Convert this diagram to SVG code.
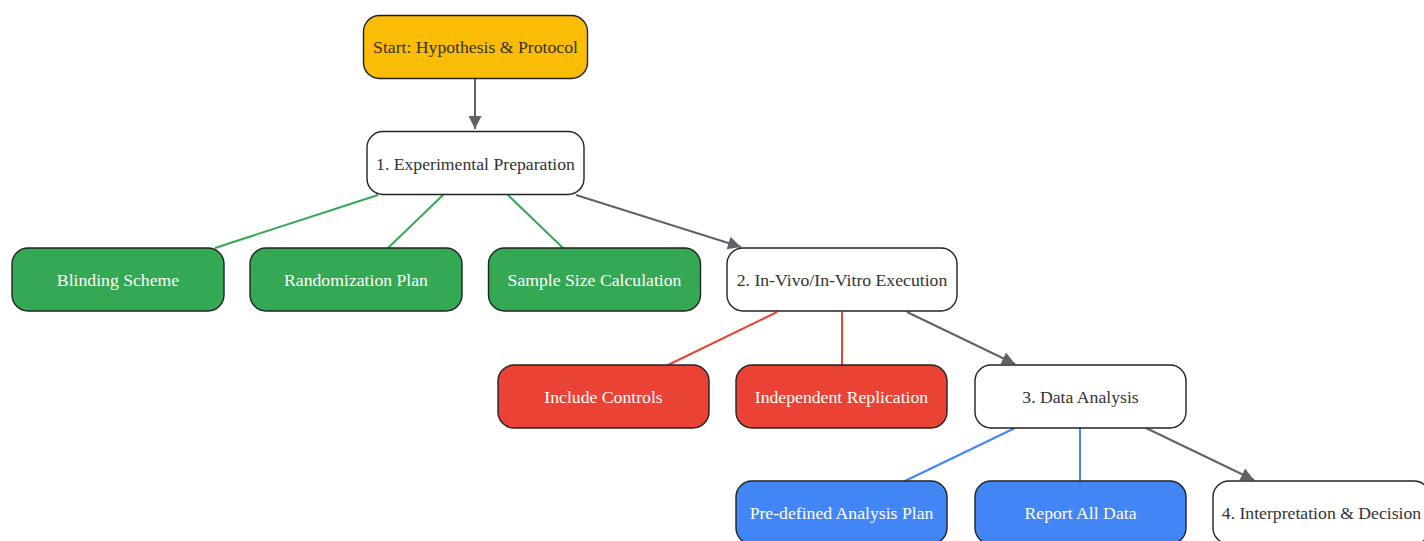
<svg xmlns="http://www.w3.org/2000/svg" width="1424" height="541" viewBox="0 0 1424 541">
<style>
.n{stroke:#222;stroke-width:1.4}
.w{fill:#fff}
.y{fill:#FBBC05}
.g{fill:#34A853}
.r{fill:#EA4335}
.b{fill:#4285F4}
text{font-family:"Liberation Serif","Times New Roman",serif;font-size:17.7px;text-anchor:middle;dominant-baseline:central}
.dk{fill:#333}
.lt{fill:#fff}
.e{fill:none;stroke-width:2}
.eg{stroke:#34A853}
.er{stroke:#EA4335}
.eb{stroke:#4285F4}
.ea{stroke:#5f6368}
</style>
<defs>
<marker id="ah" viewBox="0 0 10 10" refX="10" refY="5" markerWidth="7.5" markerHeight="6.5" markerUnits="strokeWidth" orient="auto">
<path d="M0,0 L10,5 L0,10 z" fill="#5f6368"/>
</marker>
</defs>
<rect width="1424" height="541" fill="#fff"/>
<g id="connectors">
<line class="e ea" x1="475" y1="78" x2="475" y2="129" marker-end="url(#ah)"/>
<line class="e eg" x1="378" y1="195" x2="215" y2="248"/>
<line class="e eg" x1="443" y1="195" x2="388" y2="248"/>
<line class="e eg" x1="508" y1="195" x2="563" y2="248"/>
<line class="e ea" x1="576" y1="195" x2="741" y2="247" marker-end="url(#ah)"/>
<line class="e er" x1="777" y1="312" x2="668" y2="365"/>
<line class="e er" x1="842" y1="312" x2="842" y2="365"/>
<line class="e ea" x1="907" y1="312" x2="1015" y2="364" marker-end="url(#ah)"/>
<line class="e eb" x1="1015" y1="428" x2="905" y2="481"/>
<line class="e eb" x1="1080" y1="428" x2="1080" y2="481"/>
<line class="e ea" x1="1146" y1="428" x2="1254" y2="480" marker-end="url(#ah)"/>
</g>
<g id="start"><rect class="n y" x="363.5" y="15.5" width="224" height="63" rx="16"/><text class="dk" x="475.5" y="47">Start: Hypothesis &amp; Protocol</text></g>
<g id="prep"><rect class="n w" x="367" y="131.5" width="217" height="63" rx="16"/><text class="dk" x="475.5" y="163.5">1. Experimental Preparation</text></g>
<g id="blinding"><rect class="n g" x="12" y="248" width="212" height="63" rx="16"/><text class="lt" x="118" y="280">Blinding Scheme</text></g>
<g id="random"><rect class="n g" x="250" y="248" width="212" height="63" rx="16"/><text class="lt" x="356" y="280">Randomization Plan</text></g>
<g id="sample"><rect class="n g" x="488.5" y="248" width="212" height="63" rx="16"/><text class="lt" x="594.5" y="280">Sample Size Calculation</text></g>
<g id="exec"><rect class="n w" x="727" y="248" width="230" height="63" rx="16"/><text class="dk" x="842" y="280">2. In-Vivo/In-Vitro Execution</text></g>
<g id="controls"><rect class="n r" x="498" y="365" width="211" height="63" rx="16"/><text class="lt" x="603.5" y="397">Include Controls</text></g>
<g id="replication"><rect class="n r" x="736" y="365" width="211" height="63" rx="16"/><text class="lt" x="841.5" y="397">Independent Replication</text></g>
<g id="analysis"><rect class="n w" x="975" y="365" width="211" height="63" rx="16"/><text class="dk" x="1080.5" y="397">3. Data Analysis</text></g>
<g id="predefined"><rect class="n b" x="736" y="481" width="211" height="63" rx="16"/><text class="lt" x="841.5" y="513">Pre-defined Analysis Plan</text></g>
<g id="report"><rect class="n b" x="975" y="481" width="211" height="63" rx="16"/><text class="lt" x="1080.5" y="513">Report All Data</text></g>
<g id="interp"><rect class="n w" x="1213" y="481" width="217" height="63" rx="16"/><text class="dk" x="1321.5" y="513">4. Interpretation &amp; Decision</text></g>
</svg>
